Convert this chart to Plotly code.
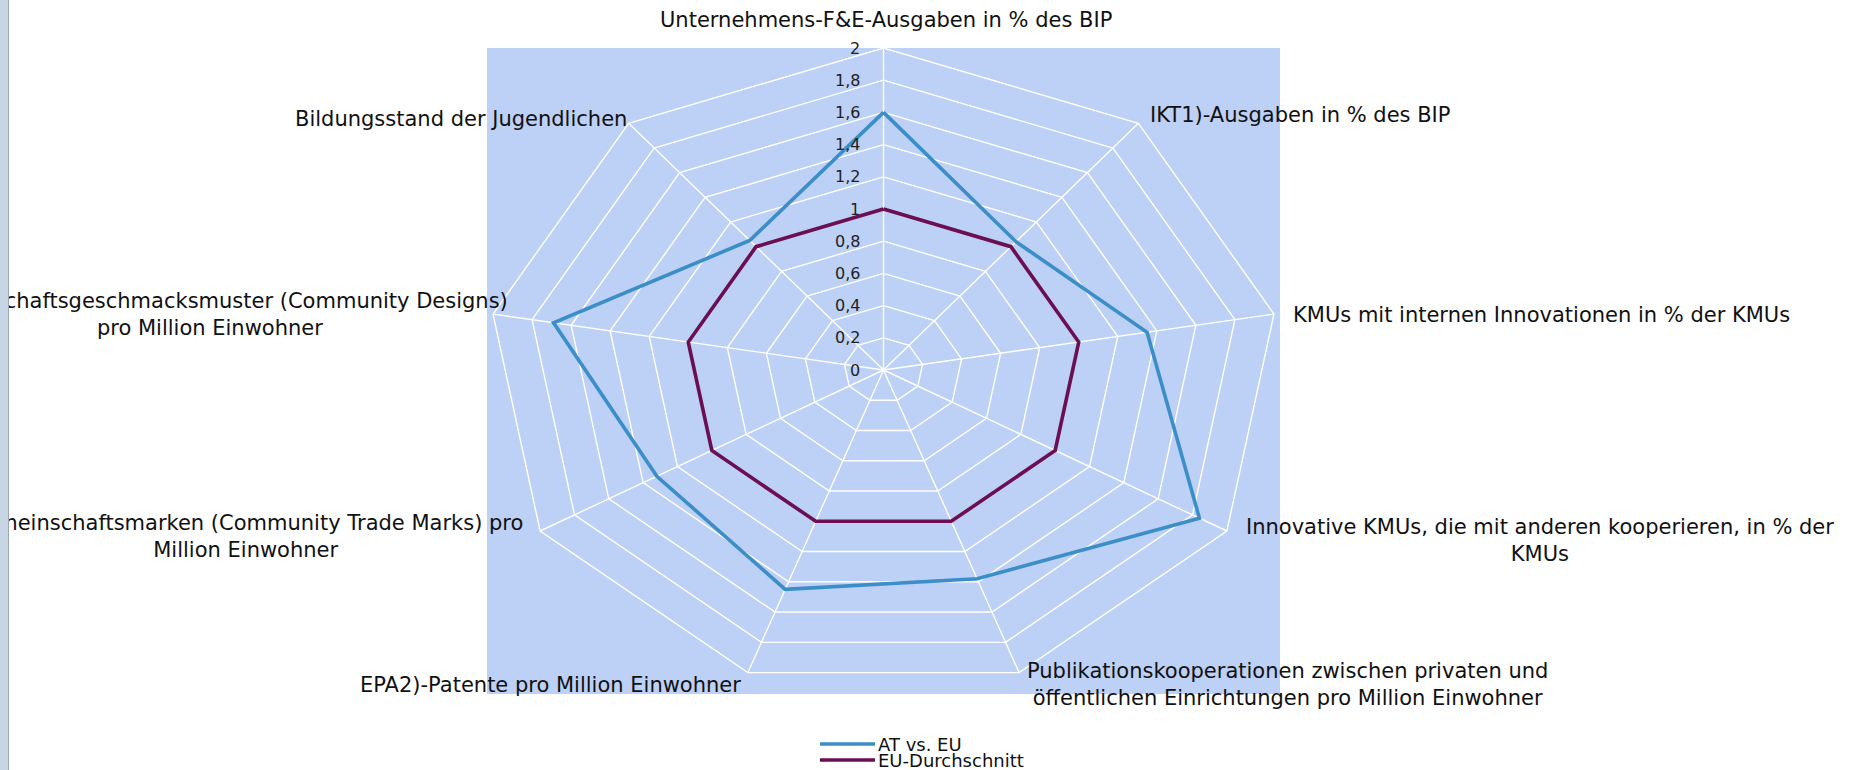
import math
import plotly.graph_objects as go

# ---------------- data ----------------
categories = [
    "Unternehmens-F&E-Ausgaben in % des BIP",
    "IKT1)-Ausgaben in % des BIP",
    "KMUs mit internen Innovationen in % der KMUs",
    "Innovative KMUs, die mit anderen kooperieren, in % der<br>KMUs",
    "Publikationskooperationen zwischen privaten und<br>öffentlichen Einrichtungen pro Million Einwohner",
    "EPA2)-Patente pro Million Einwohner",
    "Gemeinschaftsmarken (Community Trade Marks) pro<br>Million Einwohner",
    "Gemeinschaftsgeschmacksmuster (Community Designs)<br>pro Million Einwohner",
    "Bildungsstand der Jugendlichen",
]
at_vs_eu = [1.6, 1.04, 1.35, 1.84, 1.38, 1.45, 1.32, 1.69, 1.05]
eu_avg = [1, 1, 1, 1, 1, 1, 1, 1, 1]
series_names = ["AT vs. EU", "EU-Durchschnitt"]
tick_values = [0, 0.2, 0.4, 0.6, 0.8, 1.0, 1.2, 1.4, 1.6, 1.8, 2.0]
tick_labels = ["0", "0,2", "0,4", "0,6", "0,8", "1", "1,2", "1,4", "1,6", "1,8", "2"]

# ---------------- style / layout ----------------
W, H = 1861, 770
L, R, T, B = 487, 1861 - 1280, 48, 770 - 694
PW, PH = W - L - R, H - T - B
BLUE = "#3B8EC7"
PURPLE = "#6C0E52"
BG = "#BDD0F5"
FONT = "DejaVu Sans, Liberation Sans, sans-serif"
RMAX = 2.0

n = len(categories)
angles = [math.radians(90 - 360.0 / n * i) for i in range(n)]


def px2x(px):
    return (px - L) / PW


def px2y(py):
    return (H - B - py) / PH


def polar_xy(values):
    xs = [v * math.cos(a) for v, a in zip(values, angles)]
    ys = [v * math.sin(a) for v, a in zip(values, angles)]
    return xs + xs[:1], ys + ys[:1]


fig = go.Figure()

# grid rings
for tv in tick_values[1:]:
    gx, gy = polar_xy([tv] * n)
    fig.add_trace(go.Scatter(x=gx, y=gy, mode="lines", line=dict(color="white", width=1.4),
                             hoverinfo="skip", showlegend=False))
# spokes
for a in angles:
    fig.add_trace(go.Scatter(x=[0, RMAX * math.cos(a)], y=[0, RMAX * math.sin(a)], mode="lines",
                             line=dict(color="white", width=1.4), hoverinfo="skip", showlegend=False))

# series
for vals, name, col in [(at_vs_eu, series_names[0], BLUE), (eu_avg, series_names[1], PURPLE)]:
    sx, sy = polar_xy(vals)
    fig.add_trace(go.Scatter(x=sx, y=sy, mode="lines", name=name,
                             line=dict(color=col, width=3.6), showlegend=False))

annotations = []
# radial tick labels
for tv, tl in zip(tick_values, tick_labels):
    annotations.append(dict(x=0, y=tv, xref="x", yref="y", text=tl, showarrow=False,
                            xanchor="right", yanchor="middle", xshift=-22,
                            font=dict(family=FONT, size=16, color="#222")))

# category labels (pixel anchor positions)
label_pos = [
    (886, 20, "center", "center"),
    (1148, 115, "left", "left"),
    (1291, 315, "left", "left"),
    (1540, 540, "center", "center"),
    (1287, 684, "center", "center"),
    (743, 685, "right", "right"),
    (245, 536, "center", "center"),
    (210, 314, "center", "center"),
    (629, 119, "right", "right"),
]
for cat, (px, py, xa, al) in zip(categories, label_pos):
    annotations.append(dict(x=px2x(px), y=px2y(py), xref="paper", yref="paper", text=cat,
                            showarrow=False, xanchor=xa, yanchor="middle", align=al,
                            font=dict(family=FONT, size=21, color="#111")))

# legend (manual, compact)
for i, (name, col) in enumerate(zip(series_names, [BLUE, PURPLE])):
    ly = 744 + 16 * i
    fig.add_shape(type="line", xref="paper", yref="paper", x0=px2x(820), x1=px2x(875),
                  y0=px2y(ly), y1=px2y(ly), line=dict(color=col, width=3.6))
    annotations.append(dict(x=px2x(876), y=px2y(ly), xref="paper", yref="paper", text=name,
                            showarrow=False, xanchor="left", yanchor="middle",
                            font=dict(family=FONT, size=18, color="#111")))

# left window strip
annotations.append(dict(x=px2x(0), y=px2y(0), xref="paper", yref="paper", text=" ",
                        showarrow=False, xanchor="left", yanchor="top", width=8, height=770,
                        bgcolor="#C8D5E4", borderpad=0, borderwidth=0))
annotations.append(dict(x=px2x(8), y=px2y(0), xref="paper", yref="paper", text=" ",
                        showarrow=False, xanchor="left", yanchor="top", width=1, height=770,
                        bgcolor="#9AA6B2", borderpad=0, borderwidth=0))

fig.update_layout(
    width=W, height=H, autosize=False,
    margin=dict(l=L, r=R, t=T, b=B, pad=0),
    paper_bgcolor="white", plot_bgcolor=BG,
    xaxis=dict(range=[-2.0, 2.0], visible=False, fixedrange=True),
    yaxis=dict(range=[-2.0124, 2.0], visible=False, fixedrange=True),
    annotations=annotations,
    showlegend=False,
)

fig.write_html("out.html",
               config={"displayModeBar": False},
               post_script="document.body.style.margin='0px';document.body.style.overflow='hidden';")
